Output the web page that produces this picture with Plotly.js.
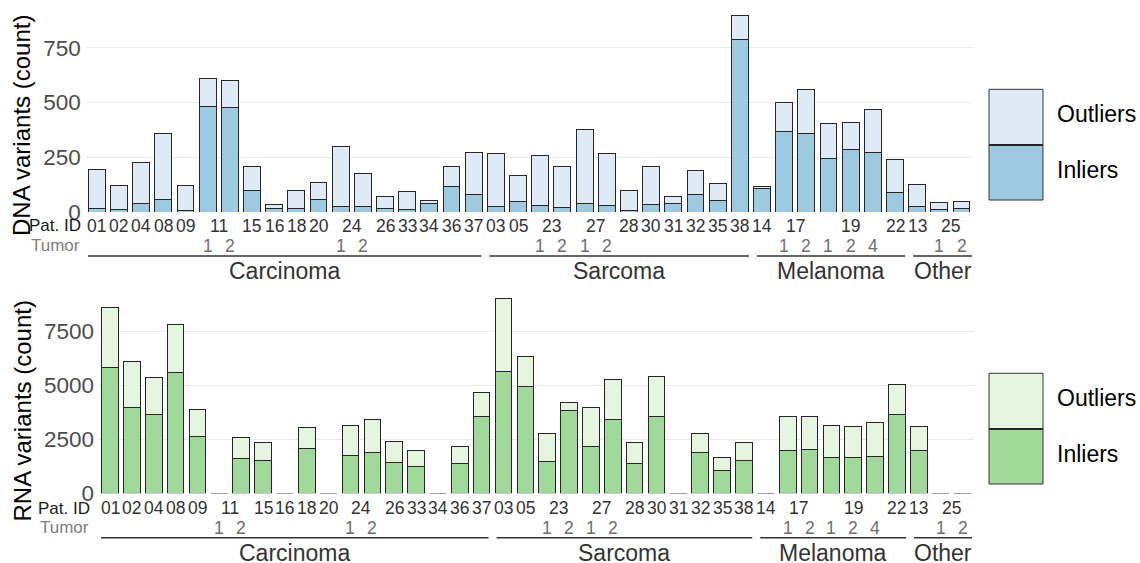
<!DOCTYPE html>
<html>
<head>
<meta charset="utf-8">
<script src="https://cdn.plot.ly/plotly-3.0.1.min.js"></script>
<style>
  html, body { margin: 0; padding: 0; background: #fff; }
  #chart { width: 1140px; height: 563px; }
</style>
</head>
<body>
<div id="chart"></div>
<script>
// Samples, one bar each: patient ID and tumor number
const patientIds = ['01','02','04','08','09','11','11','15','16','18','20','24','24','26','33','34','36','37',
                    '03','05','23','23','27','27','28','30','31','32','35','38',
                    '14','17','17','19','19','19','22',
                    '13','25','25'];
const tumorIds   = ['','','','','','1','2','','','','','1','2','','','','','',
                    '','','1','2','1','2','','','','','','',
                    '','1','2','1','2','4','',
                    '','1','2'];
const cancerTypes = ['Carcinoma','Carcinoma','Carcinoma','Carcinoma','Carcinoma','Carcinoma','Carcinoma','Carcinoma','Carcinoma',
                     'Carcinoma','Carcinoma','Carcinoma','Carcinoma','Carcinoma','Carcinoma','Carcinoma','Carcinoma','Carcinoma',
                     'Sarcoma','Sarcoma','Sarcoma','Sarcoma','Sarcoma','Sarcoma','Sarcoma','Sarcoma','Sarcoma','Sarcoma','Sarcoma','Sarcoma',
                     'Melanoma','Melanoma','Melanoma','Melanoma','Melanoma','Melanoma','Melanoma',
                     'Other','Other','Other'];

// DNA variant counts
const dnaInliers  = [18,11,41,55,9,484,477,99,18,18,58,23,24,14,11,41,117,78,
                     24,49,29,21,37,29,8,34,37,78,52,789,
                     108,366,358,245,286,271,90,
                     27,12,15];
const dnaOutliers = [174,111,184,303,111,128,123,108,17,78,79,277,150,55,82,11,90,193,
                     241,116,227,188,342,236,90,172,33,111,77,110,
                     8,135,203,159,122,198,151,
                     99,32,31];

// RNA variant counts
const rnaInliers  = [5830,3970,3630,5600,2650,0,1600,1530,0,2070,0,1740,1870,1430,1230,0,1360,3550,
                     5630,4940,1480,3830,2180,3400,1400,3560,0,1880,1070,1510,
                     0,1960,2020,1640,1680,1710,3640,
                     1960,0,0];
const rnaOutliers = [2780,2130,1720,2210,1250,0,990,830,0,990,0,1390,1560,980,760,0,820,1110,
                     3370,1390,1310,370,1770,1860,930,1840,0,880,580,840,
                     0,1590,1530,1490,1420,1560,1410,
                     1140,0,0];

const dnaTicks = [0, 250, 500, 750];
const rnaTicks = [0, 2500, 5000, 7500];

const FONT = '"Liberation Sans", Arial, Helvetica, sans-serif';
const W = 1140, H = 563;
const fx = px => px / W;
const fy = py => 1 - py / H;

const COLORS = {
  dnaIn: '#9ecae1', dnaOut: '#deebf7',
  rnaIn: '#a1d99b', rnaOut: '#e5f5e0',
  edge: '#262626'
};

// Category key per bar, e.g. "11-1"
const sampleKeys = patientIds.map((p, i) => tumorIds[i] ? p + '-' + tumorIds[i] : p);

function barTrace(name, y, color, xa, ya) {
  return {
    type: 'bar', name: name, x: sampleKeys, y: y,
    xaxis: xa, yaxis: ya,
    marker: { color: color, line: { color: COLORS.edge, width: 1 } },
    hoverinfo: 'x+y+name'
  };
}

const data = [
  barTrace('Inliers', dnaInliers, COLORS.dnaIn, 'x', 'y'),
  barTrace('Outliers', dnaOutliers, COLORS.dnaOut, 'x', 'y'),
  barTrace('Inliers', rnaInliers, COLORS.rnaIn, 'x2', 'y2'),
  barTrace('Outliers', rnaOutliers, COLORS.rnaOut, 'x2', 'y2')
];

// Panel geometry (pixels)
const panels = [
  { xa: 'x', left: 85.7, right: 972.6, top: 6, bottom: 212, ymax: 941,
    idY: 226, tumorY: 246, lineY: 256, groupY: 271, labelRight: 82,
    spanL: 84, spanR: 976, title: 'DNA variants (count)', titleY: 126,
    legendTop: 89.3, legendMid: 145, legendBottom: 200, legIn: COLORS.dnaIn, legOut: COLORS.dnaOut },
  { xa: 'x2', left: 99.1, right: 973.5, top: 289, bottom: 493.3, ymax: 9458,
    idY: 508.3, tumorY: 527.7, lineY: 537.7, groupY: 552.5, labelRight: 91,
    spanL: 97, spanR: 976, title: 'RNA variants (count)', titleY: 411.5,
    legendTop: 373.3, legendMid: 429, legendBottom: 484, legIn: COLORS.rnaIn, legOut: COLORS.rnaOut }
];

const annotations = [];
const shapes = [];

panels.forEach(p => {
  const yref = 'paper';
  // Patient IDs, centred over each run of tumors
  let i = 0;
  while (i < patientIds.length) {
    let j = i;
    while (j + 1 < patientIds.length && patientIds[j + 1] === patientIds[i]) j++;
    annotations.push({ xref: p.xa, yref: yref, x: (i + j) / 2, y: fy(p.idY), text: patientIds[i],
      showarrow: false, xanchor: 'center', yanchor: 'middle', borderpad: 0,
      font: { family: FONT, size: 17.5, color: '#333333' } });
    i = j + 1;
  }
  // Tumor numbers
  tumorIds.forEach((t, k) => {
    if (!t) return;
    annotations.push({ xref: p.xa, yref: yref, x: k, y: fy(p.tumorY), text: t,
      showarrow: false, xanchor: 'center', yanchor: 'middle', borderpad: 0,
      font: { family: FONT, size: 17.5, color: '#6e6e6e' } });
  });
  // Row headers
  annotations.push({ xref: 'paper', yref: yref, x: fx(p.labelRight), y: fy(p.idY), text: 'Pat. ID',
    showarrow: false, xanchor: 'right', yanchor: 'middle', borderpad: 0,
    font: { family: FONT, size: 17, color: '#1a1a1a' } });
  annotations.push({ xref: 'paper', yref: yref, x: fx(p.labelRight - 1), y: fy(p.tumorY), text: 'Tumor',
    showarrow: false, xanchor: 'right', yanchor: 'middle', borderpad: 0,
    font: { family: FONT, size: 17, color: '#7f7f7f' } });

  // Cancer-type brackets and labels
  const unit = (p.spanR - p.spanL) / cancerTypes.length;
  let s = 0;
  while (s < cancerTypes.length) {
    let e = s;
    while (e + 1 < cancerTypes.length && cancerTypes[e + 1] === cancerTypes[s]) e++;
    const x0 = p.spanL + s * unit + 4;
    const x1 = p.spanL + (e + 1) * unit - 4;
    shapes.push({ type: 'line', xref: 'paper', yref: 'paper', x0: fx(x0), x1: fx(x1),
      y0: fy(p.lineY), y1: fy(p.lineY), line: { color: '#333333', width: 1.5 } });
    annotations.push({ xref: 'paper', yref: 'paper', x: fx((x0 + x1) / 2), y: fy(p.groupY), text: cancerTypes[s],
      showarrow: false, xanchor: 'center', yanchor: 'middle', borderpad: 0,
      font: { family: FONT, size: 23, color: '#333333' } });
    s = e + 1;
  }

  // Y axis title
  annotations.push({ xref: 'paper', yref: 'paper', x: fx(22), y: fy(p.titleY), text: p.title, textangle: -90,
    showarrow: false, xanchor: 'center', yanchor: 'middle', borderpad: 0,
    font: { family: FONT, size: 24, color: '#000000' } });

  // Legend keys
  shapes.push({ type: 'rect', xref: 'paper', yref: 'paper', x0: fx(989), x1: fx(1043),
    y0: fy(p.legendMid), y1: fy(p.legendTop), fillcolor: p.legOut, line: { color: '#333333', width: 1 } });
  shapes.push({ type: 'rect', xref: 'paper', yref: 'paper', x0: fx(989), x1: fx(1043),
    y0: fy(p.legendBottom), y1: fy(p.legendMid), fillcolor: p.legIn, line: { color: '#333333', width: 1 } });
  shapes.push({ type: 'line', xref: 'paper', yref: 'paper', x0: fx(989), x1: fx(1043),
    y0: fy(p.legendMid), y1: fy(p.legendMid), line: { color: '#262626', width: 2 } });
  annotations.push({ xref: 'paper', yref: 'paper', x: fx(1056), y: fy((p.legendTop + p.legendMid) / 2 - 3), text: 'Outliers',
    showarrow: false, xanchor: 'left', yanchor: 'middle', borderpad: 0,
    font: { family: FONT, size: 23, color: '#000000' } });
  annotations.push({ xref: 'paper', yref: 'paper', x: fx(1056), y: fy((p.legendMid + p.legendBottom) / 2 - 3), text: 'Inliers',
    showarrow: false, xanchor: 'left', yanchor: 'middle', borderpad: 0,
    font: { family: FONT, size: 23, color: '#000000' } });
});

function xAxis(p, anchor) {
  return { domain: [fx(p.left), fx(p.right)], anchor: anchor, type: 'category',
    categoryarray: sampleKeys, categoryorder: 'array', range: [-0.5, sampleKeys.length - 0.5],
    showticklabels: false, ticks: '', showgrid: false, zeroline: false, showline: false, fixedrange: true };
}
function yAxis(p, anchor, ticks) {
  return { domain: [fy(p.bottom), fy(p.top)], anchor: anchor, range: [0, p.ymax],
    tickvals: ticks, ticktext: ticks.map(String), ticks: '', ticklabelstandoff: 4,
    showgrid: true, gridcolor: '#ebebeb', gridwidth: 1, zeroline: false, showline: false,
    tickfont: { family: FONT, size: 22.5, color: '#4d4d4d' }, fixedrange: true };
}

const layout = {
  width: W, height: H,
  margin: { l: 0, r: 0, t: 0, b: 0 },
  paper_bgcolor: '#ffffff', plot_bgcolor: '#ffffff',
  barmode: 'stack', bargap: 0.24,
  showlegend: false,
  font: { family: FONT },
  xaxis: xAxis(panels[0], 'y'),
  yaxis: yAxis(panels[0], 'x', dnaTicks),
  xaxis2: xAxis(panels[1], 'y2'),
  yaxis2: yAxis(panels[1], 'x2', rnaTicks),
  annotations: annotations,
  shapes: shapes
};

Plotly.newPlot('chart', data, layout, { displayModeBar: false, staticPlot: true });
</script>
</body>
</html>
